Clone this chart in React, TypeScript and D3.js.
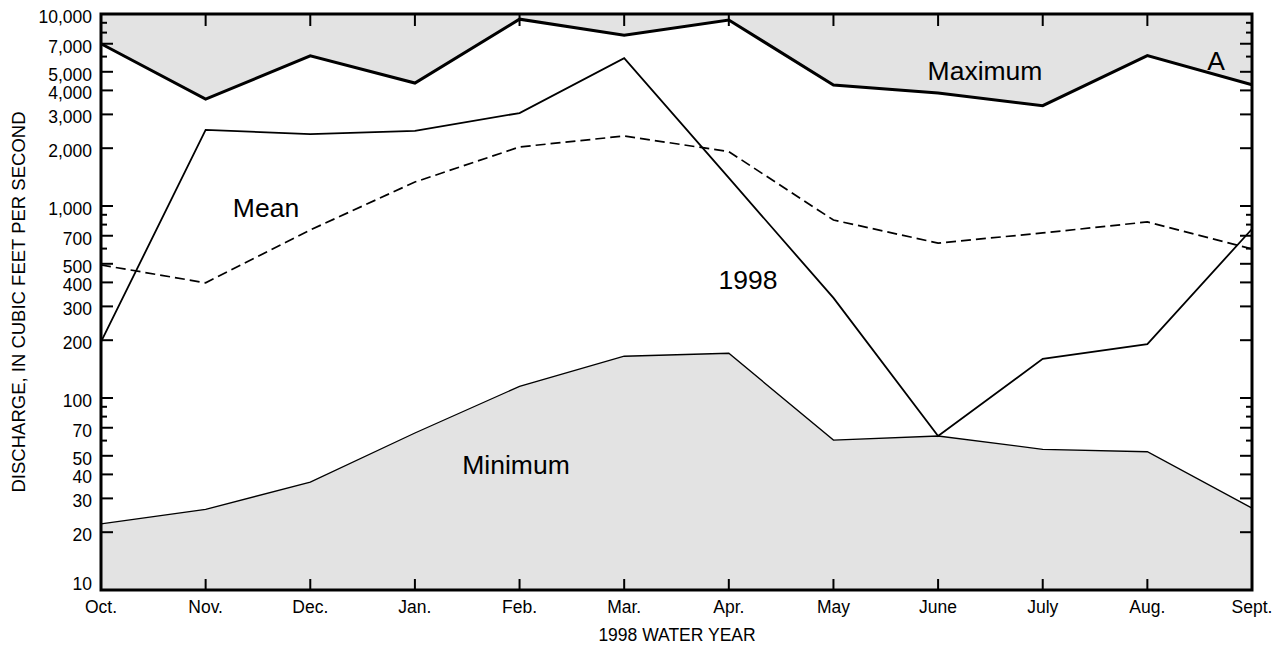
import React from "react";
import * as d3 from "d3";

const months = ["Oct.", "Nov.", "Dec.", "Jan.", "Feb.", "Mar.", "Apr.", "May", "June", "July", "Aug.", "Sept."];
const maximum = [7000, 3600, 6050, 4370, 9400, 7750, 9300, 4270, 3880, 3330, 6070, 4280];
const minimum = [22.1, 26.3, 36.5, 65.7, 115, 165, 171, 60.4, 63.4, 54, 52.5, 26.7];
const mean = [493, 398, 750, 1333, 2030, 2315, 1920, 845, 641, 724, 826, 597];
const wy1998 = [196, 2490, 2370, 2460, 3050, 5890, 1400, 332, 63.4, 160, 191, 759];
const majorTicks = [10, 20, 30, 40, 50, 70, 100, 200, 300, 400, 500, 700, 1000, 2000, 3000, 4000, 5000, 7000, 10000];

export default function App() {
  const W = 1284, H = 648;
  const L = 101, R = 1252, T = 14, B = 590;
  const x = d3.scalePoint<string>().domain(months).range([L, R]);
  const y = d3.scaleLog().domain([10, 10000]).range([B, T]);
  const idx = months.map((_, i) => i);
  const line = (arr: number[]) =>
    d3.line<number>().x((i) => x(months[i])!).y((i) => y(arr[i]))(idx)!;
  const areaTop = d3.area<number>().x((i) => x(months[i])!).y0(T).y1((i) => y(maximum[i]))(idx)!;
  const areaBot = d3.area<number>().x((i) => x(months[i])!).y0(B).y1((i) => y(minimum[i]))(idx)!;
  const allTicks: number[] = [];
  for (let d = 10; d < 10000; d *= 10) for (let k = 1; k < 10; k++) allTicks.push(d * k);
  allTicks.push(10000);
  const font = "Liberation Sans, Arial, sans-serif";
  const fs = 17.5;
  const big = 26.5;
  return (
    <svg width={W} height={H} style={{ position: "absolute", left: 0, top: 0, background: "#fff" }} fontFamily={font}>
      <path d={areaTop} fill="#e3e3e3" />
      <path d={areaBot} fill="#e3e3e3" />
      <path d={line(minimum)} fill="none" stroke="#000" strokeWidth={1.3} />
      <path d={line(mean)} fill="none" stroke="#000" strokeWidth={1.7} strokeDasharray="10,5" />
      <path d={line(wy1998)} fill="none" stroke="#000" strokeWidth={1.8} />
      <path d={line(maximum)} fill="none" stroke="#000" strokeWidth={3} />
      {allTicks.map((t) => {
        const major = majorTicks.includes(t);
        const len = major ? 12 : 6;
        const yy = y(t);
        return (
          <g key={"t" + t}>
            <line x1={L} x2={L + len} y1={yy} y2={yy} stroke="#000" strokeWidth={2} />
            <line x1={R} x2={R - len} y1={yy} y2={yy} stroke="#000" strokeWidth={2} />
          </g>
        );
      })}
      {months.map((m) => (
        <g key={"x" + m}>
          <line x1={x(m)} x2={x(m)} y1={B} y2={B - 11} stroke="#000" strokeWidth={2} />
          <line x1={x(m)} x2={x(m)} y1={T} y2={T + 12} stroke="#000" strokeWidth={2} />
          <text x={x(m)} y={613} fontSize={fs} textAnchor="middle">{m}</text>
        </g>
      ))}
      {majorTicks.map((t) => (
        <text key={"l" + t} x={92} y={t === 10 ? 590 : y(t) + 9} fontSize={fs} textAnchor="end">
          {d3.format(",")(t)}
        </text>
      ))}
      <rect x={L} y={T} width={R - L} height={B - T} fill="none" stroke="#000" strokeWidth={3} />
      <text x={985} y={80} fontSize={big} textAnchor="middle">Maximum</text>
      <text x={1216} y={70} fontSize={big} textAnchor="middle">A</text>
      <text x={266} y={217} fontSize={big} textAnchor="middle">Mean</text>
      <text x={748} y={289} fontSize={big} textAnchor="middle">1998</text>
      <text x={516} y={474} fontSize={big} textAnchor="middle">Minimum</text>
      <text x={677} y={641} fontSize={fs} textAnchor="middle">1998 WATER YEAR</text>
      <text transform={`translate(25,${(T + B) / 2}) rotate(-90)`} fontSize={18.5} textAnchor="middle">
        DISCHARGE, IN CUBIC FEET PER SECOND
      </text>
    </svg>
  );
}
